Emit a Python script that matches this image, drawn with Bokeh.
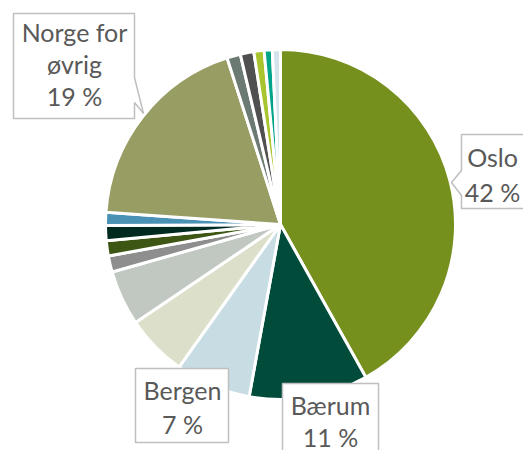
import numpy as np
from bokeh.plotting import figure
from bokeh.models import Range1d, ColumnDataSource
from bokeh.core.properties import value
from bokeh.embed import file_html
from bokeh.resources import INLINE

# ---- data (percent shares, clockwise from 12 o'clock) ----
shares = [42.0, 11.0, 7.0, 5.7, 5.1, 1.5, 1.4, 1.4, 1.2, 19.0, 1.25, 1.25, 0.95, 0.75, 0.75]
colors = ["#76901E", "#004B3A", "#C8DCE4", "#DCDFCA", "#C1C8C2", "#8E8E8E", "#3E5614",
          "#002A20", "#4A92B5", "#979D63", "#6B7A72", "#505050", "#A8C42E", "#00A488", "#D3E4EC"]
labelled = {0: "Oslo", 1: "Bærum", 2: "Bergen", 9: "Norge for\nøvrig"}

W, H = 523, 450  # screen size used for coordinate mapping
CX, CY, R = 280, H - 224, 175

total = sum(shares)
cum = np.cumsum([0.0] + shares) / total
start = np.pi / 2 - cum[:-1] * 2 * np.pi
end = np.pi / 2 - cum[1:] * 2 * np.pi

p = figure(width=W, height=H, output_backend="svg", toolbar_location=None,
           x_range=Range1d(0, W), y_range=Range1d(0, H),
           min_border=0, outline_line_color=None)
p.axis.visible = False
p.grid.visible = False
p.background_fill_color = "white"

src = ColumnDataSource(dict(start=start, end=end, color=colors))
p.wedge(x=CX, y=CY, radius=R, start_angle="start", end_angle="end", direction="clock",
        fill_color="color", line_color="white", line_width=3, source=src)

# callout boxes (screen coords -> data)
def poly(pts):
    return [x for x, y in pts], [H - y for x, y in pts]

boxes = [
    [(461, 134), (540, 134), (540, 208), (461, 208), (461, 195), (451, 182), (461, 170)],
    [(13, 13), (134, 13), (134, 77), (143, 113), (134, 102), (134, 118), (13, 118)],
    [(135, 368), (228, 368), (228, 442), (135, 442)],
    [(282, 383), (378, 383), (378, 470), (282, 470)],
]
xs, ys = zip(*[poly(b) for b in boxes])
p.patches(xs=list(xs), ys=list(ys), fill_color="white", line_color="#BFBFBF", line_width=1.5)

# label texts
def pct(i):
    return f"{round(shares[i])} %"

tx, ty, tt = [], [], []
lines = [
    (492, [156, 191], labelled[0].split("\n") + [pct(0)]),
    (74, [31, 63, 95], labelled[9].split("\n") + [pct(9)]),
    (182, [389, 423], labelled[2].split("\n") + [pct(2)]),
    (330, [404, 436], labelled[1].split("\n") + [pct(1)]),
]
for x, yl, texts in lines:
    for y, t in zip(yl, texts):
        tx.append(x); ty.append(H - y); tt.append(t)

p.text(x=tx, y=ty, text=tt, text_align="center", text_baseline="alphabetic",
       text_font=value("Lato"), text_font_size="25px", text_color="#595959")

open("out.html", "w").write(file_html(p, INLINE))
